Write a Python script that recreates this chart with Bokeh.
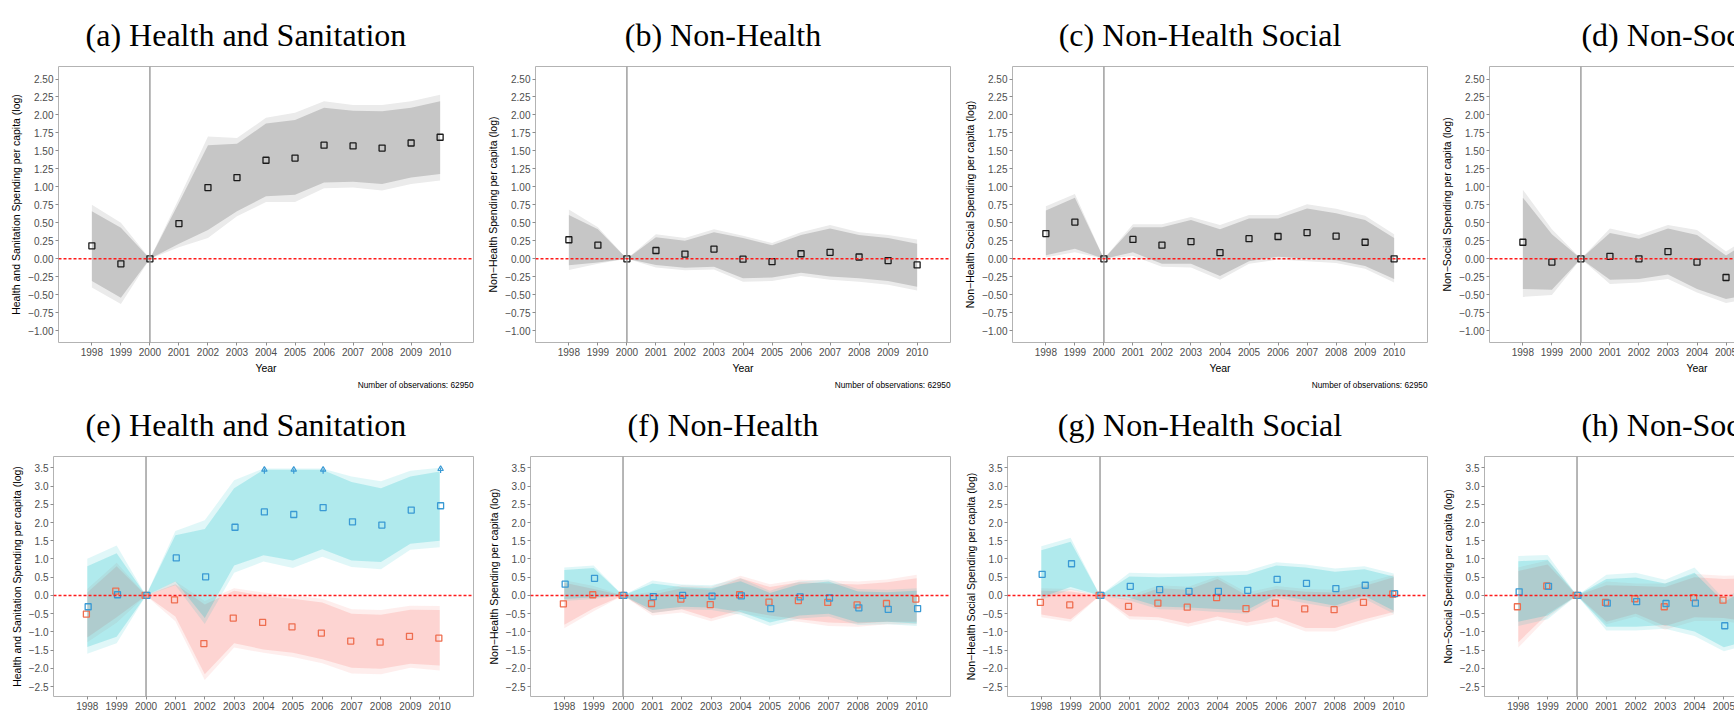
from bokeh.plotting import figure
from bokeh.layouts import column, row
from bokeh.models import Range1d, Span, Title, Legend, LegendItem
from bokeh.embed import file_html
from bokeh.resources import INLINE

# x categories (years), shared by every panel
YEARS = [1998, 1999, 2000, 2001, 2002, 2003, 2004, 2005, 2006, 2007, 2008, 2009, 2010]

TOP_TICKS = [-1.0, -0.75, -0.5, -0.25, 0.0, 0.25, 0.5, 0.75, 1.0, 1.25, 1.5, 1.75, 2.0, 2.25, 2.5]
TOP_TICK_LABELS = ["\u22121.00", "\u22120.75", "\u22120.50", "\u22120.25", "0.00", "0.25", "0.50",
                   "0.75", "1.00", "1.25", "1.50", "1.75", "2.00", "2.25", "2.50"]
BOT_TICKS = [-2.5, -2.0, -1.5, -1.0, -0.5, 0.0, 0.5, 1.0, 1.5, 2.0, 2.5, 3.0, 3.5]
BOT_TICK_LABELS = ["\u22122.5", "\u22122.0", "\u22121.5", "\u22121.0", "\u22120.5", "0.0", "0.5",
                   "1.0", "1.5", "2.0", "2.5", "3.0", "3.5"]

# (a) Health and Sanitation
A_EST  = [0.18, -0.07, 0.0, 0.49, 0.99, 1.13, 1.37, 1.40, 1.58, 1.57, 1.54, 1.61, 1.69]
A_LO90 = [-0.31, -0.54, 0.0, 0.21, 0.40, 0.66, 0.87, 0.89, 1.06, 1.07, 1.04, 1.13, 1.18]
A_HI90 = [0.66, 0.43, 0.0, 0.78, 1.58, 1.60, 1.88, 1.93, 2.10, 2.06, 2.05, 2.10, 2.19]
A_LO95 = [-0.40, -0.63, 0.0, 0.16, 0.29, 0.59, 0.79, 0.79, 0.98, 0.99, 0.95, 1.04, 1.09]
A_HI95 = [0.75, 0.50, 0.0, 0.84, 1.70, 1.68, 1.96, 2.03, 2.19, 2.14, 2.14, 2.19, 2.28]

# (b) Non-Health
B_EST  = [0.265, 0.19, 0.0, 0.115, 0.065, 0.135, -0.005, -0.04, 0.07, 0.09, 0.025, -0.025, -0.085]
B_LO90 = [-0.09, -0.05, 0.0, -0.085, -0.125, -0.11, -0.27, -0.26, -0.195, -0.245, -0.27, -0.31, -0.39]
B_HI90 = [0.61, 0.41, 0.0, 0.30, 0.25, 0.37, 0.29, 0.19, 0.33, 0.42, 0.33, 0.29, 0.21]
B_LO95 = [-0.155, -0.07, 0.0, -0.12, -0.16, -0.15, -0.32, -0.31, -0.24, -0.29, -0.32, -0.36, -0.44]
B_HI95 = [0.685, 0.44, 0.0, 0.34, 0.29, 0.41, 0.32, 0.22, 0.37, 0.47, 0.37, 0.33, 0.27]

# (c) Non-Health Social
C_EST  = [0.35, 0.51, 0.0, 0.27, 0.19, 0.24, 0.085, 0.28, 0.31, 0.365, 0.315, 0.23, 0.0]
C_LO90 = [0.05, 0.14, 0.0, 0.09, -0.07, -0.07, -0.24, -0.035, 0.03, 0.0, -0.02, -0.10, -0.28]
C_HI90 = [0.67, 0.85, 0.0, 0.44, 0.44, 0.54, 0.41, 0.56, 0.56, 0.70, 0.635, 0.54, 0.29]
C_LO95 = [0.02, 0.09, 0.0, 0.04, -0.11, -0.12, -0.29, -0.07, -0.01, -0.035, -0.06, -0.14, -0.33]
C_HI95 = [0.73, 0.90, 0.0, 0.48, 0.48, 0.58, 0.47, 0.61, 0.61, 0.76, 0.695, 0.60, 0.34]

# (d) Non-Social
D_EST  = [0.23, -0.045, 0.0, 0.035, 0.0, 0.10, -0.045, -0.26, -0.09, -0.095, -0.21, -0.21, 0.015]
D_LO90 = [-0.42, -0.43, 0.0, -0.29, -0.28, -0.22, -0.42, -0.56, -0.48, -0.555, -0.68, -0.60, -0.46]
D_HI90 = [0.85, 0.34, 0.0, 0.36, 0.28, 0.42, 0.33, 0.045, 0.30, 0.35, 0.26, 0.19, 0.49]
D_LO95 = [-0.53, -0.505, 0.0, -0.35, -0.33, -0.28, -0.47, -0.615, -0.54, -0.63, -0.755, -0.67, -0.54]
D_HI95 = [0.96, 0.41, 0.0, 0.42, 0.33, 0.47, 0.40, 0.10, 0.36, 0.44, 0.34, 0.26, 0.58]

# (e) Health and Sanitation by target
E_ABOVE_EST  = [-0.51, 0.12, 0.0, -0.12, -1.32, -0.62, -0.74, -0.86, -1.03, -1.25, -1.28, -1.12, -1.17]
E_ABOVE_LO90 = [-1.15, -0.60, 0.0, -0.58, -2.16, -1.31, -1.48, -1.57, -1.75, -1.98, -2.01, -1.87, -1.92]
E_ABOVE_HI90 = [0.08, 0.80, 0.0, 0.31, -0.25, 0.13, -0.01, -0.09, -0.19, -0.50, -0.53, -0.39, -0.40]
E_ABOVE_LO95 = [-1.28, -0.75, 0.0, -0.71, -2.32, -1.43, -1.57, -1.69, -1.86, -2.14, -2.16, -1.98, -2.06]
E_ABOVE_HI95 = [0.18, 0.90, 0.0, 0.39, -0.15, 0.20, 0.08, 0.0, -0.09, -0.38, -0.40, -0.28, -0.29]
E_BELOW_EST  = [-0.31, 0.02, 0.0, 1.03, 0.51, 1.87, 2.29, 2.22, 2.41, 2.02, 1.93, 2.34, 2.46]
E_BELOW_LO90 = [-1.41, -1.13, 0.0, 0.38, -0.62, 0.82, 1.10, 0.96, 1.27, 0.96, 0.92, 1.42, 1.50]
E_BELOW_HI90 = [0.80, 1.16, 0.0, 1.65, 1.82, 2.94, 3.45, 3.45, 3.45, 3.11, 2.94, 3.26, 3.40]
E_BELOW_LO95 = [-1.60, -1.31, 0.0, 0.28, -0.78, 0.62, 0.93, 0.75, 1.06, 0.78, 0.72, 1.25, 1.32]
E_BELOW_HI95 = [1.01, 1.37, 0.0, 1.77, 2.06, 3.16, 3.48, 3.48, 3.48, 3.26, 3.13, 3.42, 3.50]
E_CAPPED_YEARS = [2004, 2005, 2006, 2010]

# (f) Non-Health by target
F_ABOVE_EST  = [-0.23, 0.02, 0.0, -0.22, -0.10, -0.25, 0.02, -0.18, -0.14, -0.19, -0.26, -0.22, -0.10]
F_ABOVE_LO90 = [-0.80, -0.35, 0.0, -0.48, -0.38, -0.63, -0.40, -0.55, -0.65, -0.74, -0.77, -0.72, -0.72]
F_ABOVE_HI90 = [0.35, 0.18, 0.0, 0.02, 0.20, 0.16, 0.47, 0.23, 0.36, 0.33, 0.30, 0.36, 0.47]
F_ABOVE_LO95 = [-0.90, -0.43, 0.0, -0.55, -0.47, -0.71, -0.48, -0.63, -0.72, -0.84, -0.86, -0.79, -0.79]
F_ABOVE_HI95 = [0.42, 0.26, 0.0, 0.10, 0.28, 0.24, 0.54, 0.31, 0.43, 0.41, 0.38, 0.44, 0.57]
F_BELOW_EST  = [0.31, 0.47, 0.0, -0.03, 0.0, -0.02, -0.01, -0.36, -0.04, -0.07, -0.34, -0.38, -0.36]
F_BELOW_LO90 = [-0.10, -0.05, 0.0, -0.40, -0.31, -0.33, -0.45, -0.74, -0.55, -0.50, -0.74, -0.72, -0.77]
F_BELOW_HI90 = [0.70, 0.75, 0.0, 0.33, 0.23, 0.20, 0.39, 0.07, 0.31, 0.38, 0.11, 0.09, 0.13]
F_BELOW_LO95 = [-0.15, -0.10, 0.0, -0.48, -0.38, -0.40, -0.53, -0.84, -0.63, -0.58, -0.81, -0.79, -0.84]
F_BELOW_HI95 = [0.77, 0.82, 0.0, 0.41, 0.30, 0.28, 0.47, 0.13, 0.38, 0.44, 0.18, 0.16, 0.20]

# (g) Non-Health Social by target
G_ABOVE_EST  = [-0.19, -0.26, 0.0, -0.30, -0.21, -0.32, -0.06, -0.36, -0.21, -0.37, -0.39, -0.19, 0.04]
G_ABOVE_LO90 = [-0.52, -0.65, 0.0, -0.57, -0.60, -0.77, -0.58, -0.74, -0.60, -0.89, -0.89, -0.65, -0.45]
G_ABOVE_HI90 = [0.13, 0.11, 0.0, -0.09, 0.20, 0.16, 0.45, 0.0, 0.18, 0.10, 0.08, 0.26, 0.50]
G_ABOVE_LO95 = [-0.60, -0.72, 0.0, -0.65, -0.68, -0.86, -0.67, -0.84, -0.70, -0.99, -0.99, -0.74, -0.52]
G_ABOVE_HI95 = [0.20, 0.18, 0.0, -0.01, 0.28, 0.24, 0.52, 0.08, 0.26, 0.18, 0.16, 0.34, 0.57]
G_BELOW_EST  = [0.58, 0.87, 0.0, 0.25, 0.16, 0.11, 0.11, 0.14, 0.44, 0.33, 0.19, 0.28, 0.05]
G_BELOW_LO90 = [-0.05, 0.23, 0.0, -0.06, -0.30, -0.33, -0.37, -0.40, 0.02, -0.13, -0.28, -0.01, -0.42]
G_BELOW_HI90 = [1.24, 1.47, 0.0, 0.52, 0.50, 0.52, 0.54, 0.57, 0.82, 0.77, 0.65, 0.72, 0.52]
G_BELOW_LO95 = [-0.12, 0.16, 0.0, -0.14, -0.38, -0.40, -0.45, -0.50, -0.06, -0.21, -0.35, -0.09, -0.50]
G_BELOW_HI95 = [1.35, 1.58, 0.0, 0.62, 0.60, 0.60, 0.64, 0.67, 0.91, 0.85, 0.74, 0.80, 0.60]

# (h) Non-Social by target
H_ABOVE_EST  = [-0.31, 0.26, 0.0, -0.19, -0.09, -0.31, -0.06, -0.13, -0.16, -0.10, -0.15, -0.18, -0.21]
H_ABOVE_LO90 = [-1.28, -0.50, 0.0, -0.72, -0.50, -0.84, -0.60, -0.62, -0.74, -0.81, -0.81, -0.81, -0.99]
H_ABOVE_HI90 = [0.67, 0.85, 0.0, 0.28, 0.26, 0.23, 0.50, 0.45, 0.47, 0.62, 0.52, 0.43, 0.67]
H_ABOVE_LO95 = [-1.43, -0.60, 0.0, -0.79, -0.58, -0.94, -0.70, -0.70, -0.84, -0.91, -0.91, -0.91, -1.09]
H_ABOVE_HI95 = [0.77, 0.96, 0.0, 0.38, 0.33, 0.33, 0.59, 0.54, 0.57, 0.72, 0.62, 0.52, 0.75]
H_BELOW_EST  = [0.10, 0.25, 0.0, -0.21, -0.17, -0.22, -0.21, -0.83, -0.48, -0.40, -0.75, -0.81, -0.28]
H_BELOW_LO90 = [-0.72, -0.55, 0.0, -0.86, -0.86, -0.81, -0.99, -1.42, -1.20, -1.28, -1.69, -1.53, -1.11]
H_BELOW_HI90 = [0.94, 0.98, 0.0, 0.45, 0.49, 0.33, 0.62, -0.18, 0.28, 0.52, 0.23, 0.04, 0.57]
H_BELOW_LO95 = [-0.84, -0.65, 0.0, -0.96, -0.96, -0.91, -1.11, -1.53, -1.31, -1.40, -1.82, -1.64, -1.23]
H_BELOW_HI95 = [1.08, 1.11, 0.0, 0.57, 0.62, 0.43, 0.77, -0.10, 0.38, 0.62, 0.33, 0.13, 0.67]

N_OBS = 62950

PINK = "#F8766D"
CYAN = "#00BFC4"
ABOVE_PT = "#EE6E50"
BELOW_PT = "#3A9AD4"
SANS = "Liberation Sans"
SERIF = "Liberation Serif"

W = 477
H_TOP = 390
H_BOT = 386
H_LEG = 46

# rough Times advance widths (per 1000 em), used only to centre the panel titles
SERIF_W = {"(": 333, ")": 333, " ": 250, "-": 333, "a": 444, "b": 500, "c": 444, "d": 500,
           "e": 444, "f": 333, "g": 500, "h": 500, "i": 278, "l": 278, "n": 500, "o": 500,
           "r": 333, "s": 389, "t": 278, "S": 556, "H": 722, "N": 722}
TITLE_PX = 32


def base_panel(title, ylabel, ticks, labels, yr, height, left):
    p = figure(width=W, height=height, x_range=Range1d(1996.85, 2011.15), y_range=Range1d(*yr),
               output_backend="svg", toolbar_location=None,
               min_border_left=left, min_border_right=4, min_border_top=0, min_border_bottom=0)
    p.xgrid.visible = False
    p.ygrid.visible = False
    p.outline_line_color = "#B3B3B3"
    p.outline_line_width = 1
    p.background_fill_color = "white"
    p.border_fill_color = "white"

    text_w = sum(SERIF_W.get(ch, 500) for ch in title) / 1000 * TITLE_PX
    p.add_layout(Title(text=title, align="left", offset=W / 2 - left - text_w / 2 + 7,
                       text_font=SERIF, text_font_size="%dpx" % TITLE_PX,
                       text_font_style="normal", text_color="black", standoff=28), "above")

    p.xaxis.ticker = YEARS
    p.xaxis.axis_label = "Year"
    p.yaxis.ticker = ticks
    p.yaxis.major_label_overrides = dict(zip(ticks, labels))
    p.yaxis.axis_label = ylabel
    for ax in (p.xaxis[0], p.yaxis[0]):
        ax.axis_line_color = None
        ax.major_tick_line_color = "#8C8C8C"
        ax.major_tick_out = 3
        ax.major_tick_in = 0
        ax.minor_tick_line_color = None
        ax.major_label_text_font = SANS
        ax.major_label_text_font_size = "10px"
        ax.major_label_text_color = "#4D4D4D"
        ax.major_label_standoff = 2
        ax.axis_label_text_font = SANS
        ax.axis_label_text_font_size = "10.5px"
        ax.axis_label_text_font_style = "normal"
        ax.axis_label_text_color = "black"
        ax.axis_label_standoff = 3
    return p


def ref_lines(p):
    p.add_layout(Span(location=2000, dimension="height", line_color="#8F8F8F", line_width=1.3))
    p.add_layout(Span(location=0, dimension="width", line_color="#FF1A1A", line_width=1.4,
                      line_dash="3 2"))


def nobs(p):
    p.add_layout(Title(text="Number of observations: %d" % N_OBS, align="right",
                       text_font=SANS, text_font_size="8.3px", text_font_style="normal",
                       text_color="black", standoff=2), "below")


def top_panel(title, ylabel, est, lo90, hi90, lo95, hi95):
    p = base_panel(title, ylabel, TOP_TICKS, TOP_TICK_LABELS, (-1.164, 2.674), H_TOP, 58)
    p.varea(x=YEARS, y1=lo95, y2=hi95, fill_color="#EBEBEB")
    p.varea(x=YEARS, y1=lo90, y2=hi90, fill_color="#C6C6C6")
    ref_lines(p)
    p.scatter(x=YEARS, y=est, marker="square", size=6, fill_color=None,
              line_color="#1A1A1A", line_width=1.3)
    nobs(p)
    return p


def legend_strip(groups, with_line, legend_title):
    # thin strip under a bottom panel carrying its legend and the observation count;
    # its renderers reuse the panel's series but sit outside the strip's ranges
    s = figure(width=W, height=H_LEG, x_range=Range1d(0, 1), y_range=Range1d(0, 1),
               output_backend="svg", toolbar_location=None, x_axis_type=None, y_axis_type=None,
               min_border_left=53, min_border_right=4, min_border_top=0, min_border_bottom=0)
    s.xgrid.visible = False
    s.ygrid.visible = False
    s.outline_line_color = None
    s.border_fill_color = "white"
    s.background_fill_color = "white"
    items = []
    if legend_title is not None:
        est = groups[0][1][0]
        blank = s.scatter(x=YEARS, y=est, size=1, fill_alpha=0, line_alpha=0)
        items.append(LegendItem(label=legend_title, renderers=[blank]))
    for name, (est, lo90, hi90, lo95, hi95), fill, pt in groups:
        rends = [s.varea(x=YEARS, y1=lo95, y2=hi95, fill_color=fill, fill_alpha=0.12),
                 s.varea(x=YEARS, y1=lo90, y2=hi90, fill_color=fill, fill_alpha=0.21)]
        if with_line:
            rends.append(s.line(x=YEARS, y=est, line_color=pt, line_width=1))
        rends.append(s.scatter(x=YEARS, y=est, marker="square", size=6, fill_color=None,
                               line_color=pt, line_width=1.3))
        items.append(LegendItem(label=name, renderers=rends))
    legend = Legend(items=items, orientation="horizontal", location="top_center")
    legend.label_text_font = SANS
    legend.label_text_font_size = "8.3px"
    legend.glyph_width = 15
    legend.glyph_height = 15
    legend.label_standoff = 5
    legend.spacing = 11
    legend.padding = 2
    legend.margin = 4
    legend.border_line_color = None
    legend.background_fill_alpha = 0
    s.add_layout(legend)
    nobs(s)
    return s


def bottom_panel(title, ylabel, above, below, capped=None, legend_title=None):
    p = base_panel(title, ylabel, BOT_TICKS, BOT_TICK_LABELS, (-2.77, 3.81), H_BOT - H_LEG, 53)
    groups = [("Above", above, PINK, ABOVE_PT, -0.03), ("Below", below, CYAN, BELOW_PT, 0.03)]
    for name, (est, lo90, hi90, lo95, hi95), fill, pt, dx in groups:
        p.varea(x=YEARS, y1=lo95, y2=hi95, fill_color=fill, fill_alpha=0.12)
        p.varea(x=YEARS, y1=lo90, y2=hi90, fill_color=fill, fill_alpha=0.21)
    ref_lines(p)
    for name, (est, lo90, hi90, lo95, hi95), fill, pt, dx in groups:
        p.scatter(x=[yr + dx for yr in YEARS], y=est, marker="square", size=6,
                  fill_color=None, line_color=pt, line_width=1.3)

    if capped is not None:
        # upper bound runs past the axis: short upward arrows at the top of the band
        hi95 = below[4]
        idx = [YEARS.index(yr) for yr in capped]
        ax_ = [YEARS[i] + 0.03 for i in idx]
        tip = [hi95[i] for i in idx]
        p.segment(x0=ax_, y0=[t - 0.14 for t in tip], x1=ax_, y1=tip,
                  line_color=BELOW_PT, line_width=1.2)
        p.scatter(x=ax_, y=[t - 0.03 for t in tip], marker="triangle", size=5.5,
                  fill_color=None, line_color=BELOW_PT, line_width=1.2)

    strip = legend_strip([(g[0], g[1], g[2], g[3]) for g in groups], capped is not None,
                         legend_title)
    return column(p, strip)


pa = top_panel("(a) Health and Sanitation", "Health and Sanitation Spending per capita (log)",
               A_EST, A_LO90, A_HI90, A_LO95, A_HI95)
pb = top_panel("(b) Non-Health", "Non\u2212Health Spending per capita (log)",
               B_EST, B_LO90, B_HI90, B_LO95, B_HI95)
pc = top_panel("(c) Non-Health Social", "Non\u2212Health Social Spending per capita (log)",
               C_EST, C_LO90, C_HI90, C_LO95, C_HI95)
pd_ = top_panel("(d) Non-Social", "Non\u2212Social Spending per capita (log)",
                D_EST, D_LO90, D_HI90, D_LO95, D_HI95)

pe = bottom_panel("(e) Health and Sanitation", "Health and Sanitation Spending per capita (log)",
                  (E_ABOVE_EST, E_ABOVE_LO90, E_ABOVE_HI90, E_ABOVE_LO95, E_ABOVE_HI95),
                  (E_BELOW_EST, E_BELOW_LO90, E_BELOW_HI90, E_BELOW_LO95, E_BELOW_HI95),
                  capped=E_CAPPED_YEARS, legend_title="target")
pf = bottom_panel("(f) Non-Health", "Non\u2212Health Spending per capita (log)",
                  (F_ABOVE_EST, F_ABOVE_LO90, F_ABOVE_HI90, F_ABOVE_LO95, F_ABOVE_HI95),
                  (F_BELOW_EST, F_BELOW_LO90, F_BELOW_HI90, F_BELOW_LO95, F_BELOW_HI95))
pg = bottom_panel("(g) Non-Health Social", "Non\u2212Health Social Spending per capita (log)",
                  (G_ABOVE_EST, G_ABOVE_LO90, G_ABOVE_HI90, G_ABOVE_LO95, G_ABOVE_HI95),
                  (G_BELOW_EST, G_BELOW_LO90, G_BELOW_HI90, G_BELOW_LO95, G_BELOW_HI95))
ph = bottom_panel("(h) Non-Social", "Non\u2212Social Spending per capita (log)",
                  (H_ABOVE_EST, H_ABOVE_LO90, H_ABOVE_HI90, H_ABOVE_LO95, H_ABOVE_HI95),
                  (H_BELOW_EST, H_BELOW_LO90, H_BELOW_HI90, H_BELOW_LO95, H_BELOW_HI95))

page = column(row(pa, pb, pc, pd_), row(pe, pf, pg, ph))

open("out.html", "w").write(file_html(page, INLINE))
